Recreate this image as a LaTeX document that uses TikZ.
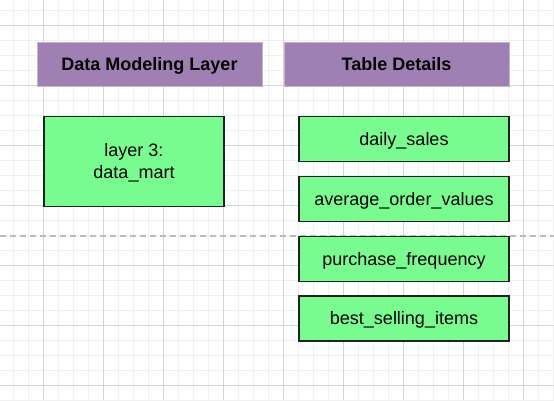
\documentclass[tikz,border=0pt]{standalone}
\usepackage{fontspec}
\setmainfont{Liberation Sans}
\definecolor{gridminor}{HTML}{F0F0F0}
\definecolor{gridmajor}{HTML}{D4D4D4}
\definecolor{hdrfill}{HTML}{A080B4}
\definecolor{hdrline}{HTML}{C4B4CC}
\definecolor{boxfill}{HTML}{78FB8F}
\definecolor{boxline}{HTML}{222222}
\definecolor{sepcol}{HTML}{BBBBBB}
\tikzset{
  dfont/.style={font=\fontsize{18}{21.6}\selectfont},
  hdrbox/.style={fill=hdrfill, draw=hdrline, line width=0.8pt, minimum width=225pt, minimum height=44pt, inner sep=0pt, outer sep=0pt, font=\fontsize{18}{21.6}\selectfont\bfseries, text height=17.05pt, text depth=4.55pt},
  tblbox/.style={fill=boxfill, draw=boxline, line width=1.5pt, minimum width=210pt, minimum height=45pt, inner sep=0pt, outer sep=0pt, dfont, text height=17.05pt, text depth=4.55pt},
  layerbox/.style={fill=boxfill, draw=boxline, line width=1.5pt, minimum width=180pt, minimum height=90pt, inner sep=0pt, outer sep=0pt, align=center, dfont, text height=38.35pt, text depth=4.55pt},
  sepline/.style={draw=sepcol, line width=1.3pt, dash pattern=on 6pt off 4pt}
}
\begin{document}
\begin{tikzpicture}[x=1pt,y=-1pt]
\useasboundingbox (0,0) rectangle (554,400);
\fill[white] (0,0) rectangle (554,400);
% minor grid
\foreach \i in {0,...,37} {
  \draw[gridminor, line width=1pt] ({13.33+15*\i},0) -- ({13.33+15*\i},400);
}
\foreach \j in {0,...,26} {
  \draw[gridminor, line width=1pt] (0,{10+15*\j}) -- (554,{10+15*\j});
}
% major grid
\foreach \i in {0,...,8} {
  \draw[gridmajor, line width=1pt] ({43.33+60*\i},0) -- ({43.33+60*\i},400);
}
\foreach \j in {0,...,6} {
  \draw[gridmajor, line width=1pt] (0,{25+60*\j}) -- (554,{25+60*\j});
}
% separator
\coordinate (sepL) at (0,236);
\coordinate (sepR) at (554,236);
\draw[sepline] (sepL) -- (sepR);
% headers
\node[hdrbox] (hdrA) at (149.5,64) {Data Modeling Layer};
\node[hdrbox] (hdrB) at (396.5,64) {Table Details};
% layer box
\node[layerbox] (layer) at (134,161.3) {layer 3:\\data\_mart};
% table boxes
\node[tblbox] (daily) at (404,139.2) {daily\_sales};
\node[tblbox] (avgov) at (404,199) {average\_order\_values};
\node[tblbox] (purch) at (404,258.8) {purchase\_frequency};
\node[tblbox] (best) at (404,318.5) {best\_selling\_items};
\end{tikzpicture}
\end{document}
